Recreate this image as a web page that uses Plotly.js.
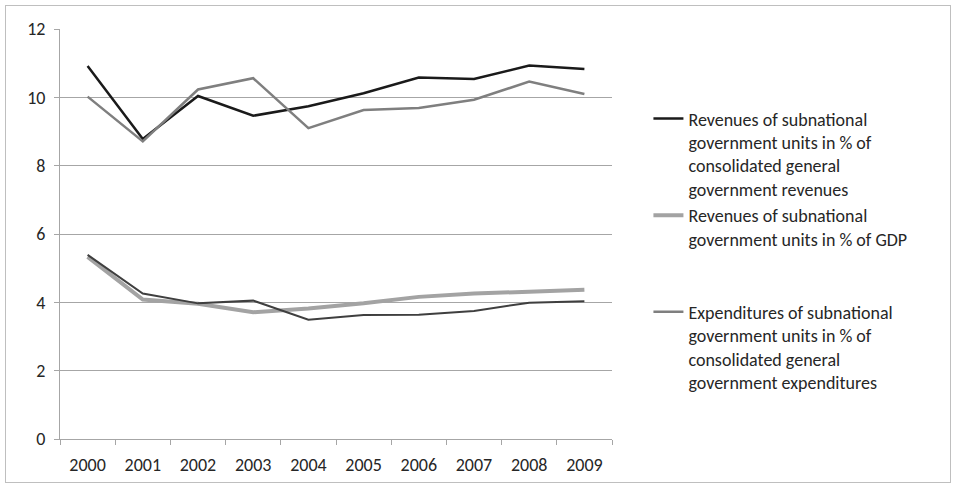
<!DOCTYPE html>
<html><head><meta charset="utf-8">
<script src="https://cdn.plot.ly/plotly-3.0.1.min.js"></script>
<style>
html,body{margin:0;padding:0;background:#fff;}
#frame{position:absolute;left:5px;top:5px;width:944px;height:476px;border:1px solid #bfbfbf;}
#chart{width:944px;height:476px;}
</style></head>
<body><div id="frame"><div id="chart"></div></div>
<script>
const years = ['2000','2001','2002','2003','2004','2005','2006','2007','2008','2009'];
const revShareName = 'Revenues of subnational<br>government units in % of<br>consolidated general<br>government revenues';
const revGdpName = 'Revenues of subnational<br>government units in % of GDP<br>&nbsp;<br>&nbsp;';
const expShareName = 'Expenditures of subnational<br>government units in % of<br>consolidated general<br>government expenditures';
const revShare = [10.92, 8.78, 10.04, 9.46, 9.74, 10.12, 10.58, 10.54, 10.93, 10.83];
const revGdp   = [5.33, 4.08, 3.96, 3.71, 3.82, 3.97, 4.16, 4.26, 4.31, 4.37];
const expShare = [10.02, 8.71, 10.23, 10.56, 9.10, 9.63, 9.69, 9.93, 10.46, 10.10];
const expGdp   = [5.39, 4.26, 3.97, 4.05, 3.49, 3.63, 3.64, 3.75, 3.99, 4.03];

const font = {family:'Carlito, "Open Sans", "Liberation Sans", sans-serif', size:18, color:'#262626'};
const traces = [
  {x:years, y:revShare, name:revShareName, mode:'lines', line:{color:'#1a1a1a', width:2.5}},
  {x:years, y:revGdp, name:revGdpName, mode:'lines', line:{color:'#a3a3a3', width:4}},
  {x:years, y:expShare, name:expShareName, mode:'lines', line:{color:'#7f7f7f', width:2.5}},
  {x:years, y:expGdp, name:'Expenditures of subnational government units in % of GDP', mode:'lines', line:{color:'#3f3f3f', width:2}, showlegend:false}
];
const layout = {
  width:944, height:476,
  margin:{l:54, r:338, t:23, b:43},
  paper_bgcolor:'#fff', plot_bgcolor:'#fff',
  font:font,
  showlegend:true,
  legend:{x:1.066, xanchor:'left', y:0.826, yanchor:'top', font:font, valign:'top', traceorder:'normal', tracegroupgap:0, itemwidth:30},
  xaxis:{type:'category', range:[-0.5,9.5], showline:true, linecolor:'#a6a6a6', linewidth:1,
         ticks:'outside', tickson:'boundaries', ticklen:5, tickcolor:'#a6a6a6', showgrid:false, zeroline:false, tickfont:font, ticklabelstandoff:9, fixedrange:true},
  yaxis:{range:[0,12], dtick:2, showline:true, linecolor:'#a6a6a6', linewidth:1,
         ticks:'outside', ticklen:5, tickcolor:'#a6a6a6', gridcolor:'#a6a6a6', gridwidth:1, zeroline:false, tickfont:font, ticklabelstandoff:5, fixedrange:true}
};
Plotly.newPlot('chart', traces, layout, {displayModeBar:false, staticPlot:true});
</script></body></html>
